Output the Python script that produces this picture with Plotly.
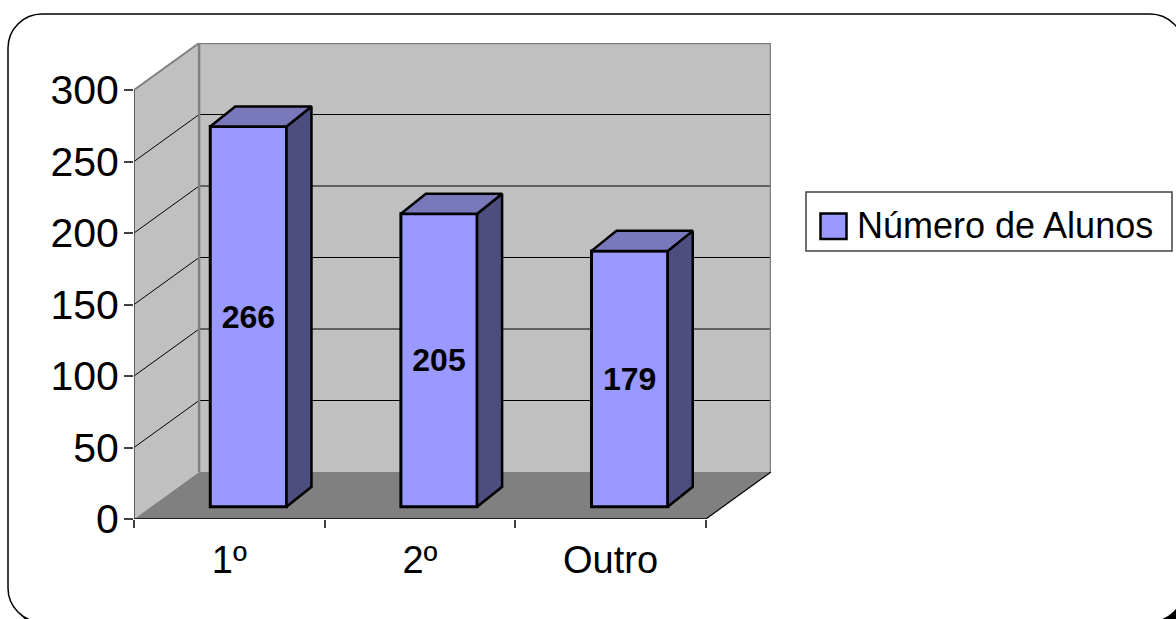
import plotly.graph_objects as go

# Chart data
categories = ["1º", "2º", "Outro"]
values = [266, 205, 179]
series_name = "Número de Alunos"
y_ticks = [0, 50, 100, 150, 200, 250, 300]

WIDTH, HEIGHT = 1176, 619
M_L, M_R, M_T, M_B = 134, 405, 43, 100
FONT = "Liberation Sans"

# Oblique projection of the chart box, in axis units
x_pos = [1, 2, 3]
y_max = y_ticks[-1]
wall_dx, wall_dy = 0.3415, 32.87
bar_dx, bar_dy = 0.131, 14.0
bar_base = 8.5
bar_width = 0.4
bar_shift = 0.1

FRONT, SIDE, TOP = "#9999ff", "#4d4d80", "#7878ba"
WALL, FLOOR, EDGE = "#c0c0c0", "#808080", "#808080"


def px(x):
    return (x - M_L) / (WIDTH - M_L - M_R)


def py(y):
    return (HEIGHT - M_B - y) / (HEIGHT - M_T - M_B)


def rounded(x0, y0, x1, y1, r):
    k = 0.448 * r
    pts = [
        ("M", (x0 + r, y0)), ("L", (x1 - r, y0)),
        ("C", (x1 - k, y0), (x1, y0 + k), (x1, y0 + r)),
        ("L", (x1, y1 - r)),
        ("C", (x1, y1 - k), (x1 - k, y1), (x1 - r, y1)),
        ("L", (x0 + r, y1)),
        ("C", (x0 + k, y1), (x0, y1 - k), (x0, y1 - r)),
        ("L", (x0, y0 + r)),
        ("C", (x0, y0 + k), (x0 + k, y0), (x0 + r, y0)),
    ]
    out = []
    for cmd, *coords in pts:
        out.append(cmd + " ".join(f"{px(a):.5f},{py(b):.5f}" for a, b in coords))
    return " ".join(out) + " Z"


def polygon(points):
    return "M" + " L".join(f"{a},{b}" for a, b in points) + " Z"


def data_shape(path=None, fill=None, line=None, width=0):
    return dict(
        type="path", path=path, xref="x", yref="y", layer="below",
        fillcolor=fill or "rgba(0,0,0,0)",
        line=dict(color=line or "rgba(0,0,0,0)", width=width),
    )


def data_line(p0, p1, color, width):
    return dict(
        type="line", xref="x", yref="y", layer="below",
        x0=p0[0], y0=p0[1], x1=p1[0], y1=p1[1],
        line=dict(color=color, width=width),
    )


x_l, x_r = 0.5, 3.5
shapes = [
    # card behind the chart, with its hard drop shadow
    dict(type="path", path=rounded(13, 19, 1189, 627, 34), xref="paper", yref="paper",
         layer="below", fillcolor="black", line=dict(color="black", width=1)),
    dict(type="path", path=rounded(8, 14, 1184, 622, 34), xref="paper", yref="paper",
         layer="below", fillcolor="white", line=dict(color="black", width=1.5)),
    # left wall, back wall and floor of the box
    data_shape(polygon([(x_l, 0), (x_l + wall_dx, wall_dy), (x_l + wall_dx, y_max + wall_dy), (x_l, y_max)]), WALL),
    data_shape(polygon([(x_l + wall_dx, wall_dy), (x_r + wall_dx, wall_dy), (x_r + wall_dx, y_max + wall_dy), (x_l + wall_dx, y_max + wall_dy)]), WALL),
    data_shape(polygon([(x_l, 0), (x_r, 0), (x_r + wall_dx, wall_dy), (x_l + wall_dx, wall_dy)]), FLOOR),
]

# gridlines run across the back wall and down the left wall
for t in y_ticks[1:-1]:
    shapes.append(data_line((x_l, t), (x_l + wall_dx, t + wall_dy), "black", 1))
    shapes.append(data_line((x_l + wall_dx, t + wall_dy), (x_r + wall_dx, t + wall_dy), "black", 1))

# box outline
shapes += [
    data_line((x_l, y_max), (x_l + wall_dx, y_max + wall_dy), EDGE, 2),
    data_line((x_l + wall_dx, y_max + wall_dy), (x_r + wall_dx, y_max + wall_dy), EDGE, 2.5),
    data_line((x_l + wall_dx, wall_dy), (x_l + wall_dx, y_max + wall_dy), EDGE, 2.5),
    data_line((x_r + wall_dx, wall_dy), (x_r + wall_dx, y_max + wall_dy), EDGE, 2.5),
    data_line((x_l, 0), (x_l, y_max), "#404040", 1.5),
    data_line((x_l, 0), (x_r, 0), "black", 1.5),
    data_line((x_r, 0), (x_r + wall_dx, wall_dy), "black", 1.2),
]

# legend box and swatch
shapes += [
    dict(type="rect", xref="paper", yref="paper", layer="below",
         x0=px(806), x1=px(1172), y0=py(251), y1=py(192),
         fillcolor="white", line=dict(color="#404040", width=1.5)),
    dict(type="rect", xref="paper", yref="paper", layer="below",
         x0=px(820.5), x1=px(846.5), y0=py(239), y1=py(213.5),
         fillcolor=FRONT, line=dict(color="black", width=2.5)),
]

fig = go.Figure()

# front faces carry the value labels
fig.add_trace(go.Bar(
    x=x_pos, y=values, base=bar_base, name=series_name,
    width=bar_width, offset=bar_shift - bar_width / 2,
    marker=dict(color=FRONT, line=dict(color="black", width=3)),
    text=[str(v) for v in values], textposition="inside", insidetextanchor="middle",
    textangle=0, constraintext="none",
    insidetextfont=dict(family=FONT, size=32, color="black", weight="bold"),
    showlegend=False, hoverinfo="skip",
))

# side and top faces, offset by the bar depth
for xc, v in zip(x_pos, values):
    left = xc + bar_shift - bar_width / 2
    right = xc + bar_shift + bar_width / 2
    low, high = bar_base, bar_base + v
    fig.add_trace(go.Scatter(
        x=[right, right + bar_dx, right + bar_dx, right, right],
        y=[low, low + bar_dy, high + bar_dy, high, low],
        mode="lines", fill="toself", fillcolor=SIDE,
        line=dict(color="black", width=2.5), showlegend=False, hoverinfo="skip",
    ))
    fig.add_trace(go.Scatter(
        x=[left, left + bar_dx, right + bar_dx, right, left],
        y=[high, high + bar_dy, high + bar_dy, high, high],
        mode="lines", fill="toself", fillcolor=TOP,
        line=dict(color="black", width=2.5), showlegend=False, hoverinfo="skip",
    ))

fig.update_layout(
    width=WIDTH, height=HEIGHT, autosize=False,
    margin=dict(l=M_L, r=M_R, t=M_T, b=M_B, pad=0),
    paper_bgcolor="white", plot_bgcolor="rgba(0,0,0,0)",
    showlegend=False, shapes=shapes,
    annotations=[dict(
        text=series_name, xref="paper", yref="paper", x=px(855), y=py(226),
        xanchor="left", yanchor="middle", showarrow=False,
        font=dict(family=FONT, size=36, color="black"),
    )],
    xaxis=dict(
        range=[x_l, x_r + wall_dx], tickmode="array", tickvals=x_pos, ticktext=categories,
        ticks="", showgrid=False, zeroline=False, showline=False, automargin=False,
        tickfont=dict(family=FONT, size=38, color="black"), ticklabelstandoff=15,
        minor=dict(tickmode="array", tickvals=[x_l, 1.5, 2.5, x_r], ticks="outside",
                   ticklen=8, tickwidth=1.5, tickcolor="#404040", showgrid=False),
    ),
    yaxis=dict(
        range=[0, y_max + wall_dy], tickmode="array", tickvals=y_ticks,
        ticks="outside", ticklen=9, tickwidth=1.5, tickcolor="#404040",
        showgrid=False, zeroline=False, showline=False, automargin=False,
        tickfont=dict(family=FONT, size=41, color="black"), ticklabelstandoff=-3,
    ),
)

fig.write_html("out.html")
